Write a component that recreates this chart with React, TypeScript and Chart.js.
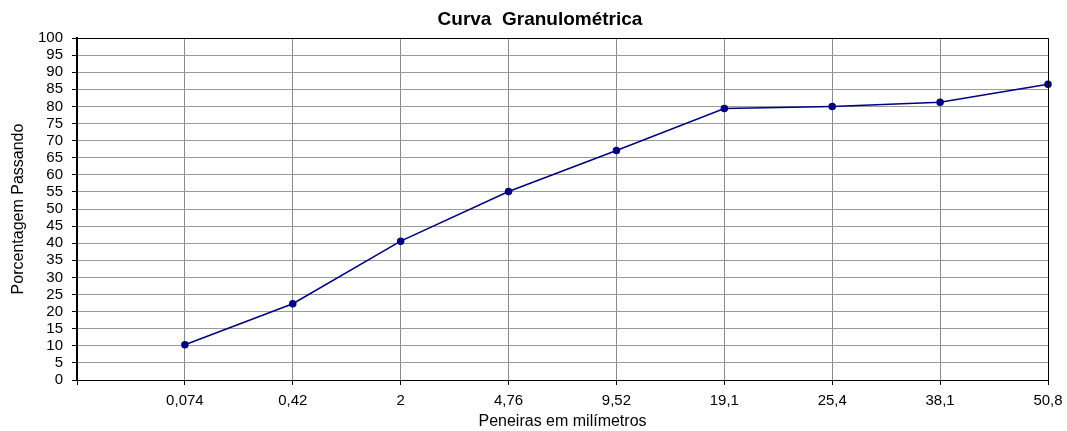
import React, { useEffect, useRef } from "react";
import { Chart, registerables } from "chart.js";

Chart.register(...registerables);

const sieves: string[] = ["", "0,074", "0,42", "2", "4,76", "9,52", "19,1", "25,4", "38,1", "50,8"];
const passing: (number | null)[] = [null, 10.3, 22.3, 40.6, 55.1, 67.1, 79.4, 80.0, 81.2, 86.5];
const chartTitle = "Curva  Granulométrica";
const xTitle = "Peneiras em milímetros";
const yTitle = "Porcentagem Passando";

const FONT = "'Liberation Sans', Arial, sans-serif";

const frame = {
  id: "frame",
  afterDatasetsDraw(chart: any) {
    const { ctx, chartArea } = chart;
    ctx.save();
    ctx.strokeStyle = "#000";
    ctx.lineWidth = 1;
    ctx.beginPath();
    ctx.moveTo(chartArea.left, chartArea.top + 0.5);
    ctx.lineTo(Math.round(chartArea.right) + 0.5, chartArea.top + 0.5);
    ctx.lineTo(Math.round(chartArea.right) + 0.5, chartArea.bottom);
    ctx.stroke();
    ctx.restore();
  },
  afterDraw(chart: any) {
    const { ctx } = chart;
    ctx.save();
    ctx.fillStyle = "#000";
    ctx.font = `bold 19px ${FONT}`;
    ctx.textAlign = "center";
    ctx.textBaseline = "middle";
    ctx.fillText(chartTitle, 540, 20);
    ctx.restore();
  },
};

export default function App() {
  const ref = useRef<HTMLCanvasElement | null>(null);
  useEffect(() => {
    if (!ref.current) return;
    const chart = new Chart(ref.current, {
      type: "line",
      data: {
        labels: sieves,
        datasets: [
          {
            data: passing,
            borderColor: "#000080",
            backgroundColor: "#000080",
            borderWidth: 1.5,
            pointRadius: 3,
            pointBackgroundColor: "#000080",
            pointBorderColor: "#000080",
            tension: 0,
            spanGaps: true,
          },
        ],
      },
      options: {
        animation: false,
        responsive: false,
        maintainAspectRatio: false,
        layout: { padding: { left: 0, right: 19, top: 38, bottom: 0 } },
        plugins: {
          legend: { display: false },
          tooltip: { enabled: false },
          title: { display: false },
        },
        scales: {
          x: {
            type: "category",
            offset: false,
            grid: { color: "#8a8a8a", lineWidth: 1, tickLength: 5, tickColor: "#000" },
            border: { color: "#000", width: 1 },
            ticks: {
              color: "#000",
              font: { family: FONT, size: 15 },
              maxRotation: 0,
              autoSkip: false,
              padding: 7,
            },
            title: {
              display: true,
              text: xTitle,
              color: "#000",
              font: { family: FONT, size: 16 },
              padding: { top: 0, bottom: 0 },
            },
            afterFit: (s: any) => {
              s.height = 51;
              s.paddingLeft = 0;
              s.paddingRight = 0;
            },
          },
          y: {
            min: 0,
            max: 100,
            grid: { color: "#9a9a9a", lineWidth: 1, tickLength: 5, tickColor: "#000" },
            border: { color: "#000", width: 2 },
            ticks: {
              stepSize: 5,
              autoSkip: false,
              color: "#000",
              font: { family: FONT, size: 15 },
              padding: 9,
            },
            title: {
              display: true,
              text: yTitle,
              color: "#000",
              font: { family: FONT, size: 16 },
              padding: { top: 9, bottom: 0 },
            },
            afterFit: (s: any) => {
              s.width = 77;
            },
          },
        },
      },
      plugins: [frame],
    });
    return () => chart.destroy();
  }, []);
  return (
    <div style={{ position: "fixed", left: 0, top: 0, width: 1067, height: 431, background: "#fff" }}>
      <canvas ref={ref} width={1067} height={431} style={{ display: "block" }} />
    </div>
  );
}
